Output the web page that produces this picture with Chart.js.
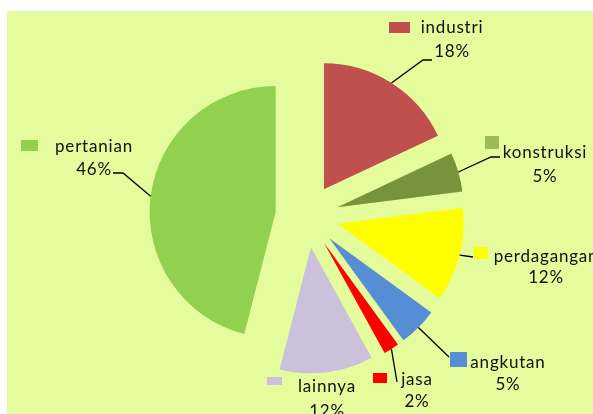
<!DOCTYPE html>
<html><head><meta charset="utf-8">
<script src="https://cdn.jsdelivr.net/npm/chart.js@4.4.0/dist/chart.umd.min.js"></script>
<style>html,body{margin:0;padding:0;background:#fff;}#wrap{width:593px;height:414px;position:relative;overflow:hidden}canvas{display:block}</style>
</head><body><div id="wrap"><canvas id="c" width="593" height="414"></canvas></div>
<script>
// ---- data ----
const categories = ['industri','konstruksi','perdagangan','angkutan','jasa','lainnya','pertanian'];
const shares = [18, 5, 12, 5, 2, 12, 46];
const sliceColors = ['#c0504d','#77933c','#ffff00','#558ed5','#ff0000','#ccc1da','#92d050'];
const keyColors = ['#c0504d','#9bbb59','#ffff00','#558ed5','#ff0000','#ccc1da','#92d050'];

// ---- layout / style ----
const EXPLODE = 31.6;
const BG = '#e5fc9d';
const FONT = '17px Lato, "Open Sans", sans-serif';
const labelLayout = [
  {cx:452, y1:33,  y2:57,  key:[389,22,21,11],  path:[[423,60],[432,60]]},
  {cx:545, y1:158, y2:182, key:[485,136,14,13], path:[[491,157],[500,157]]},
  {cx:546, y1:262, y2:283, key:[474,247,14,12], path:[[473,257]]},
  {cx:508, y1:368, y2:390, key:[450,352,17,15], path:[[449,357]]},
  {cx:417, y1:385, y2:407, key:[373,373,14,10], path:[[397,382]]},
  {cx:327, y1:392, y2:417, key:[267,377,15,8],  path:[]},
  {cx:94,  y1:152, y2:175, key:[21,140,17,11],  path:[[123,173],[113,173]]}
];

// exploded slices: shift every arc outward along its mid angle
const ArcEl = Chart.registry.getElement('arc');
const baseDraw = ArcEl.prototype.draw;
ArcEl.prototype.draw = function(ctx, area){
  const mid = (this.startAngle + this.endAngle) / 2;
  ctx.save();
  ctx.translate(Math.cos(mid) * EXPLODE, Math.sin(mid) * EXPLODE);
  baseDraw.call(this, ctx, area);
  ctx.restore();
};

const bgPlugin = {
  id: 'bg',
  beforeDraw(chart){
    const ctx = chart.ctx;
    ctx.save();
    ctx.fillStyle = '#ffffff';
    ctx.fillRect(0, 0, chart.width, chart.height);
    ctx.fillStyle = BG;
    ctx.fillRect(7, 11, chart.width - 7, chart.height - 11);
    ctx.restore();
  }
};

const labelPlugin = {
  id: 'pieLabels',
  afterDatasetsDraw(chart){
    const ctx = chart.ctx;
    const meta = chart.getDatasetMeta(0);
    const data = chart.data.datasets[0].data;
    const total = data.reduce((a, b) => a + b, 0);
    ctx.save();
    meta.data.forEach((arc, i) => {
      const L = labelLayout[i];
      const mid = (arc.startAngle + arc.endAngle) / 2;
      const r = arc.outerRadius + EXPLODE;
      const sx = arc.x + Math.cos(mid) * r;
      const sy = arc.y + Math.sin(mid) * r;
      if (L.path.length) {
        ctx.beginPath();
        ctx.moveTo(sx, sy);
        L.path.forEach(p => ctx.lineTo(p[0], p[1]));
        ctx.strokeStyle = '#000';
        ctx.lineWidth = 1.3;
        ctx.stroke();
      }
      ctx.fillStyle = keyColors[i];
      ctx.fillRect(L.key[0], L.key[1], L.key[2], L.key[3]);
      ctx.fillStyle = '#111';
      ctx.font = FONT;
      if ('letterSpacing' in ctx) ctx.letterSpacing = '0.8px';
      ctx.textAlign = 'center';
      ctx.textBaseline = 'alphabetic';
      ctx.fillText(chart.data.labels[i], L.cx, L.y1);
      ctx.fillText(Math.round(data[i] / total * 100) + '%', L.cx, L.y2);
    });
    ctx.restore();
  }
};

new Chart(document.getElementById('c'), {
  type: 'pie',
  data: {
    labels: categories,
    datasets: [{
      data: shares,
      backgroundColor: sliceColors,
      borderWidth: 0,
      radius: 126
    }]
  },
  options: {
    responsive: false,
    animation: false,
    events: [],
    layout: {padding: {left: 21, top: 18, right: 0, bottom: 0}},
    plugins: {legend: {display: false}, tooltip: {enabled: false}}
  },
  plugins: [bgPlugin, labelPlugin]
});
</script>
</body></html>
